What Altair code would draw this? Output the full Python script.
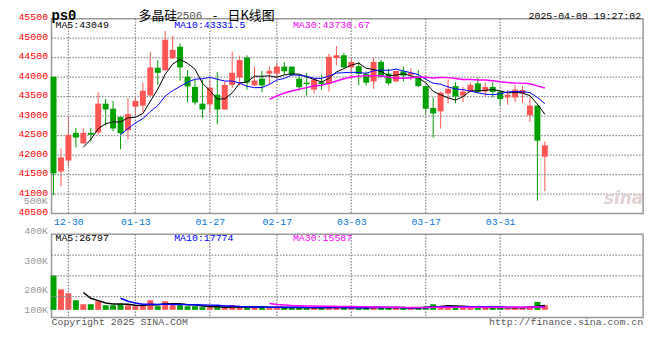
import altair as alt
import pandas as pd

# ---------------- data ----------------
dates = ["12-26", "12-27", "12-30", "12-31", "01-02", "01-03", "01-06", "01-07", "01-08", "01-09",
         "01-10", "01-13", "01-14", "01-15", "01-16", "01-17", "01-20", "01-21", "01-22", "01-23",
         "01-24", "01-27", "02-05", "02-06", "02-07", "02-10", "02-11", "02-12", "02-13", "02-14",
         "02-17", "02-18", "02-19", "02-20", "02-21", "02-24", "02-25", "02-26", "02-27", "02-28",
         "03-03", "03-04", "03-05", "03-06", "03-07", "03-10", "03-11", "03-12", "03-13", "03-14",
         "03-17", "03-18", "03-19", "03-20", "03-21", "03-24", "03-25", "03-26", "03-27", "03-28",
         "03-31", "04-01", "04-02", "04-03", "04-07", "04-08", "04-09"]

opens = [44010, 41580, 41860, 42570, 42300, 42570, 42580, 43320, 43190, 42980,
         42640, 43240, 43270, 43530, 44240, 44180, 44480, 44780, 44010, 43750,
         43320, 43300, 43550, 43170, 43800, 43990, 44500, 43790, 43960, 44090,
         44090, 44270, 44270, 43960, 43860, 43680, 43870, 43820, 44490, 44560,
         44250, 44280, 44090, 43890, 44390, 44090, 43890, 44150, 44060, 43990,
         43770, 43210, 43120, 43580, 43770, 43530, 43620, 43840, 43630, 43750,
         43630, 43480, 43480, 43580, 43020, 43270, 41960]
highs = [44010, 42170, 43000, 42700, 42690, 42690, 43610, 43440, 43390, 42990,
         43460, 43500, 43860, 44650, 44440, 45190, 45060, 44860, 44180, 43940,
         43940, 43940, 44130, 43890, 44650, 44550, 44560, 44270, 44160, 44270,
         44370, 44390, 44270, 44060, 44110, 43960, 44060, 44600, 44800, 44620,
         44490, 44390, 44150, 44490, 44440, 44210, 44160, 44270, 44230, 44180,
         43770, 43480, 43630, 43940, 43870, 43750, 43870, 43990, 43870, 43870,
         43650, 43670, 43790, 43770, 43500, 43270, 42350]
lows = [40970, 41200, 41710, 42200, 42290, 42350, 42520, 42760, 42610, 42150,
        42410, 43000, 43100, 43480, 43800, 44150, 44470, 43910, 43360, 43290,
        42940, 43070, 42790, 43160, 43720, 43780, 43680, 43770, 43610, 43820,
        43970, 44050, 44040, 43650, 43530, 43580, 43680, 43630, 44300, 44240,
        44080, 43790, 43790, 43700, 43990, 43790, 43880, 43890, 43920, 43740,
        43030, 42450, 42680, 43330, 43330, 43360, 43610, 43580, 43510, 43480,
        43270, 43290, 43360, 43340, 42850, 40830, 41070]
closes = [41530, 41940, 42520, 42450, 42570, 42520, 43320, 43170, 42680, 42560,
          43050, 43390, 43650, 44250, 44110, 44960, 44700, 44250, 43760, 43350,
          43170, 43730, 43170, 43800, 44110, 44440, 43860, 43910, 43790, 44160,
          44270, 44150, 44060, 43740, 43820, 43940, 43820, 44520, 44560, 44250,
          44390, 44080, 43860, 44390, 44010, 43840, 44160, 44040, 44110, 43770,
          43190, 43070, 43600, 43700, 43500, 43630, 43800, 43620, 43750, 43620,
          43440, 43550, 43680, 43670, 43270, 42370, 42250]
volumes = [182500, 108800, 87700, 50900, 29800, 29800, 45600, 24600, 24600, 29800,
           24600, 19300, 19300, 50900, 19300, 45600, 24600, 24600, 19300, 19300,
           14000, 14000, 14000, 10500, 24600, 14000, 14000, 10500, 14000, 14000,
           14000, 10500, 10500, 14000, 10500, 10500, 10500, 19300, 10500, 10500,
           10500, 10500, 10500, 19300, 10500, 10500, 10500, 10500, 7000, 14000,
           19300, 29800, 19300, 24600, 10500, 14000, 14000, 14000, 10500, 10500,
           14000, 7000, 14000, 14000, 19300, 42100, 24600]

tick_dates = ["12-30", "01-13", "01-27", "02-17", "03-03", "03-17", "03-31"]
price_ticks = [40500, 41000, 41500, 42000, 42500, 43000, 43500, 44000, 44500, 45000, 45500]
vol_tick_values = [400000, 290000, 180000, 70000]
vol_tick_labels = ["400K", "300K", "200K", "100K"]
price_ma_labels = ["MA5:43049", "MA10:43331.5", "MA30:43730.67"]
vol_ma_labels = ["MA5:26797", "MA10:17774", "MA30:15587"]
title_parts = ["ps0", "多晶硅", "2506", "-", "日K线图"]
timestamp = "2025-04-09 19:27:02"
footer_left = "Copyright 2025 SINA.COM"
footer_right = "http://finance.sina.com.cn"

# ---------------- styling ----------------
RED = "#FF5555"
GREEN = "#00A000"
BLUE_DATE = "#0A78D8"
MA_COLORS = ["#000000", "#0000FF", "#FF00FF"]
MA_WIDTHS = [1, 1, 1.5]
GRID = "#8A8A8A"
MONO = "Liberation Mono"
CJK = "Noto Sans CJK SC"
W, H_MAIN, H_VOL = 598, 197, 84
X_DOMAIN = [-0.27, 79.2]

n = len(dates)
df = pd.DataFrame({"idx": list(range(n)), "date": dates, "open": opens, "high": highs,
                   "low": lows, "close": closes, "vol": volumes})
df["dir"] = ["up" if c >= o else "down" for o, c in zip(opens, closes)]
for w in (5, 10, 30):
    df[f"ma{w}"] = df["close"].rolling(w).mean()
    df[f"vma{w}"] = df["vol"].rolling(w).mean()

tick_idx = [dates.index(d) for d in tick_dates]
date_expr = " : ".join(f"datum.value == {i} ? '{d}'" for i, d in zip(tick_idx, tick_dates)) + " : ''"
vol_expr = " : ".join(f"datum.value == {v} ? '{l}'" for v, l in zip(vol_tick_values, vol_tick_labels)) + " : ''"

x_scale = alt.Scale(domain=X_DOMAIN, nice=False, zero=False, padding=0)
color = alt.Color("dir:N", scale=alt.Scale(domain=["up", "down"], range=[RED, GREEN]), legend=None)

x_main = alt.X("idx:Q", scale=x_scale, title=None,
               axis=alt.Axis(values=tick_idx, tickCount=len(tick_idx) + 2, labelExpr=date_expr,
                             grid=False, domain=False, ticks=False,
                             labelColor=BLUE_DATE, labelFont=MONO, labelFontSize=10, labelPadding=3,
                             labelFlush=False, labelOverlap=False))
y_price = alt.Y("low:Q", scale=alt.Scale(domain=[40500, 45500], nice=False, zero=False, padding=0),
                title=None,
                axis=alt.Axis(values=price_ticks, tickCount=len(price_ticks) + 2, format="d", grid=False,
                              domain=False, ticks=False,
                              labelColor="#FF0000", labelFont=MONO, labelFontSize=10, labelPadding=4,
                              labelOffset=-2, labelFlush=False, labelOverlap=False))


def hgrid(values, field):
    # each gridline is a two-point line running across the full x domain
    rows = [{"idx": xv, field: v, "g": str(v)} for v in values for xv in X_DOMAIN]
    return alt.Chart(pd.DataFrame(rows)).mark_line(
        color=GRID, strokeWidth=1.3, strokeDash=[1.5, 1.5]).encode(
        x=alt.X("idx:Q"), y=alt.Y(f"{field}:Q"), detail="g:N")


def vgrid(values, height):
    return alt.Chart(pd.DataFrame({"idx": values})).mark_rule(
        color=GRID, strokeWidth=1.3, strokeDash=[1.5, 1.5]).encode(
        x=alt.X("idx:Q"), y=alt.value(0), y2=alt.value(height))


base = alt.Chart(df).encode(x=x_main)
wicks = base.mark_rule(strokeWidth=1).encode(y=y_price, y2="high:Q", color=color)
bodies = base.mark_bar(size=6).encode(y="open:Q", y2="close:Q", color=color)
ma_lines = [base.mark_line(color=c, strokeWidth=sw).encode(y=f"ma{w}:Q")
            for w, c, sw in zip((5, 10, 30), MA_COLORS, MA_WIDTHS)]


def txt(text, x, y, color="#000000", size=10, align="left", font=MONO, weight="normal", style="normal"):
    return alt.Chart(pd.DataFrame({"t": [text]})).mark_text(
        align=align, baseline="middle", font=font, fontSize=size, color=color,
        fontWeight=weight, fontStyle=style).encode(x=alt.value(x), y=alt.value(y), text="t:N")


legend_x = [4, 124, 244]
price_legend = [txt(t, x, 6.5, c) for t, x, c in zip(price_ma_labels, legend_x, MA_COLORS)]
header = [
    txt(title_parts[0], 0, -2.5, size=14, weight="bold"),
    txt(title_parts[1], 88, -2.5, size=13, font=CJK),
    txt(title_parts[2], 126, -2.5, color="#555555", size=11, font=MONO),
    txt(title_parts[3], 163, -2.5, size=13, font=CJK),
    txt(title_parts[4], 178, -2.5, size=13, font=CJK),
    txt(timestamp, 596, -2.5, align="right"),
]
watermark = txt("sina", 598, 182, color="#E2D4D4", size=17, align="right", font="DejaVu Sans",
                weight="bold", style="italic")

main = alt.layer(
    wicks, hgrid(price_ticks[1:-1], "low"), vgrid(tick_idx, H_MAIN), bodies, *ma_lines,
    *price_legend, *header, watermark
).properties(width=W, height=H_MAIN)

# ---------------- volume panel ----------------
x_vol = alt.X("idx:Q", scale=x_scale, title=None,
              axis=alt.Axis(values=tick_idx, tickCount=len(tick_idx) + 2, labels=False, grid=False,
                            domain=False, ticks=False))
y_vol = alt.Y("vol:Q", scale=alt.Scale(domain=[-40000, 400000], nice=False, zero=False, padding=0),
              title=None,
              axis=alt.Axis(values=vol_tick_values, tickCount=len(vol_tick_values) + 2, labelExpr=vol_expr,
                            grid=False, domain=False, ticks=False,
                            labelColor="#999999", labelFont=MONO, labelFontSize=10, labelPadding=4,
                            labelOffset={"condition": [{"test": "datum.value == 400000", "value": -4},
                                                       {"test": "datum.value == 290000", "value": 5},
                                                       {"test": "datum.value == 180000", "value": 14}],
                                         "value": 13},
                            labelFlush=False, labelOverlap=False))
vbase = alt.Chart(df).encode(x=x_vol)
vbars = vbase.mark_bar(size=6).encode(y=y_vol, y2=alt.datum(0), color=color)
vma_lines = [vbase.mark_line(color=c, strokeWidth=1.5).encode(y=f"vma{w}:Q")
             for w, c in zip((5, 10, 30), MA_COLORS)]
vol_legend = [txt(t, x, 3.5, c) for t, x, c in zip(vol_ma_labels, legend_x, MA_COLORS)]
extra = [
    txt("500K", -4, -34, color="#999999", align="right"),
    txt(footer_left, 0, 88.6, color="#555555"),
    txt(footer_right, W, 88.6, color="#555555", align="right"),
]
vol = alt.layer(
    vbars, hgrid(vol_tick_values[1:], "vol"), vgrid(tick_idx, H_VOL), *vma_lines, *vol_legend, *extra
).properties(width=W, height=H_VOL)

chart = alt.vconcat(main, vol, spacing=21, bounds="flush").properties(
    padding={"left": 9, "top": -2, "right": 5, "bottom": 5}
).configure_view(stroke="#999999", strokeWidth=1.5).configure_axis(labelOverlap=False)

chart.save("out.html", embed_options={"renderer": "svg", "actions": False})
